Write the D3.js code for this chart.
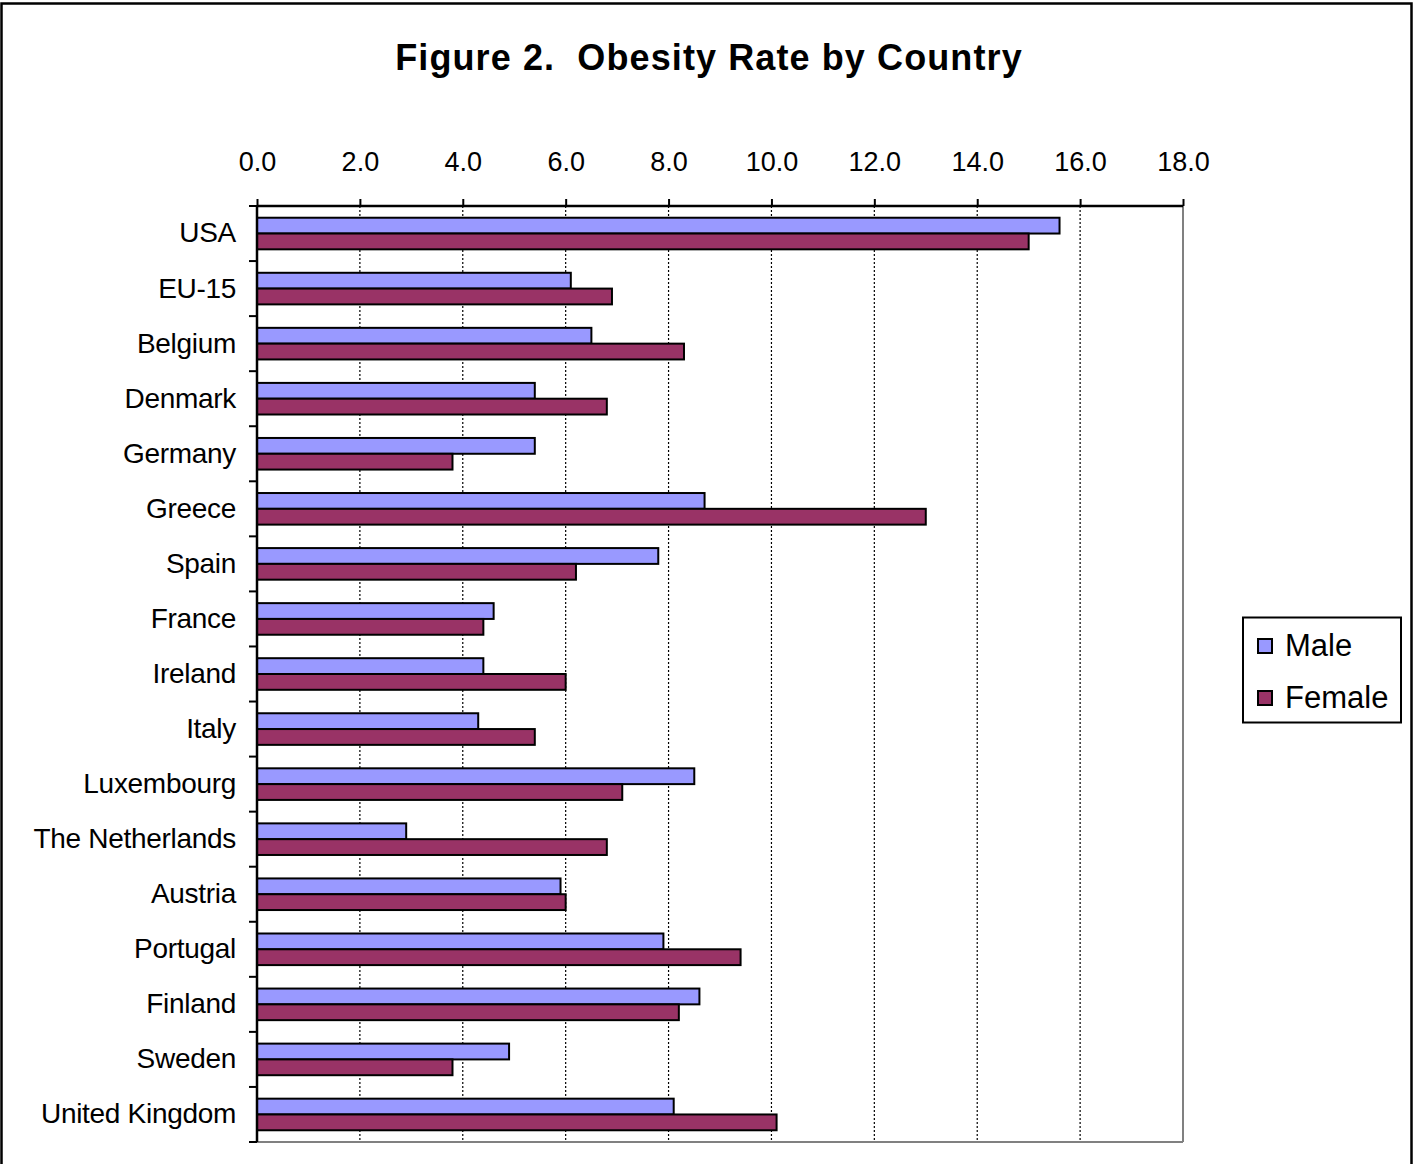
<!DOCTYPE html>
<html><head><meta charset="utf-8">
<script src="https://cdn.jsdelivr.net/npm/d3@7"></script>
<style>body{margin:0;background:#fff}svg{display:block}text{font-family:"Liberation Sans",Arial,sans-serif;fill:#000}</style>
</head><body><svg id="c" width="1413" height="1164"></svg>
<script>
const categories = ["USA","EU-15","Belgium","Denmark","Germany","Greece","Spain","France","Ireland","Italy","Luxembourg","The Netherlands","Austria","Portugal","Finland","Sweden","United Kingdom"];
const maleValues = [15.6,6.1,6.5,5.4,5.4,8.7,7.8,4.6,4.4,4.3,8.5,2.9,5.9,7.9,8.6,4.9,8.1];
const femaleValues = [15.0,6.9,8.3,6.8,3.8,13.0,6.2,4.4,6.0,5.4,7.1,6.8,6.0,9.4,8.2,3.8,10.1];
const seriesNames = ["Male","Female"];
const seriesColors = ["#9999FF","#993366"];
const tickValues = [0,2,4,6,8,10,12,14,16,18];
const title = "Figure 2.  Obesity Rate by Country";

const svg = d3.select("#c");
svg.append("rect").attr("x",1.5).attr("y",3.5).attr("width",1410).attr("height",1200)
  .attr("fill","#fff").attr("stroke","#000").attr("stroke-width",2.5);

svg.append("text").attr("x",709).attr("y",70).attr("text-anchor","middle")
  .attr("font-size",36).attr("font-weight","bold").attr("letter-spacing",1.1)
  .style("white-space","pre").attr("xml:space","preserve").text(title);

const L=257, R=1183, T=206, B=1142;
const x = d3.scaleLinear().domain([0,18]).range([L,R]);
const y = d3.scaleBand().domain(categories).range([T,B]);
const barH = 15.8;

// gridlines
const g = svg.append("g");
g.selectAll("line.grid").data(tickValues.slice(1,-1)).join("line")
  .attr("x1",d=>x(d)).attr("x2",d=>x(d)).attr("y1",T).attr("y2",B)
  .attr("stroke","#000").attr("stroke-width",1.2).attr("stroke-dasharray","2,2");
g.append("line").attr("x1",R).attr("x2",R).attr("y1",T).attr("y2",B).attr("stroke","#808080").attr("stroke-width",2);
g.append("line").attr("x1",L).attr("x2",R).attr("y1",B).attr("y2",B).attr("stroke","#808080").attr("stroke-width",2);

// bars
const data = categories.map((c,i)=>({c, v:[maleValues[i],femaleValues[i]]}));
const off = (y.bandwidth() - 2*barH)/2;
data.forEach(d=>{
  d.v.forEach((v,j)=>{
    svg.append("rect").attr("x",x(0)).attr("y",y(d.c)+off+j*barH)
      .attr("width",x(v)-x(0)).attr("height",barH)
      .attr("fill",seriesColors[j]).attr("stroke","#000").attr("stroke-width",2);
  });
});

// top axis
const xAxis = d3.axisTop(x).tickValues(tickValues).tickFormat(d3.format(".1f")).tickSize(7).tickPadding(28);
const xg = svg.append("g").attr("transform",`translate(0,${T})`).call(xAxis);
xg.select(".domain").attr("stroke","#000").attr("stroke-width",2.5).attr("d",`M${L},0H${R}`);
xg.selectAll(".tick line").attr("stroke","#000").attr("stroke-width",2);
xg.selectAll(".tick text").attr("font-size",27).attr("font-family","Liberation Sans, Arial, sans-serif").attr("fill","#000");

// left axis
const yAxis = d3.axisLeft(y).tickSize(0).tickPadding(21);
const yg = svg.append("g").attr("transform",`translate(${L},0)`).call(yAxis);
yg.select(".domain").attr("stroke","#000").attr("stroke-width",2.5).attr("d",`M0,${T}V${B}`);
yg.selectAll(".tick text").attr("font-size",28).attr("font-family","Liberation Sans, Arial, sans-serif").attr("fill","#000").attr("letter-spacing",-0.3);
const bounds = categories.map(c=>y(c)).concat([B]);
svg.append("g").selectAll("line").data(bounds).join("line")
  .attr("x1",L-8).attr("x2",L).attr("y1",d=>d).attr("y2",d=>d)
  .attr("stroke","#000").attr("stroke-width",2);

// legend
const lg = svg.append("g");
lg.append("rect").attr("x",1243).attr("y",617.5).attr("width",158).attr("height",105)
  .attr("fill","#fff").attr("stroke","#000").attr("stroke-width",2);
seriesNames.forEach((n,i)=>{
  const cy = 646 + i*52;
  lg.append("rect").attr("x",1258).attr("y",cy-7).attr("width",14).attr("height",14)
    .attr("fill",seriesColors[i]).attr("stroke","#000").attr("stroke-width",2);
  lg.append("text").attr("x",1285).attr("y",cy+10).attr("font-size",31).text(n);
});
</script></body></html>
